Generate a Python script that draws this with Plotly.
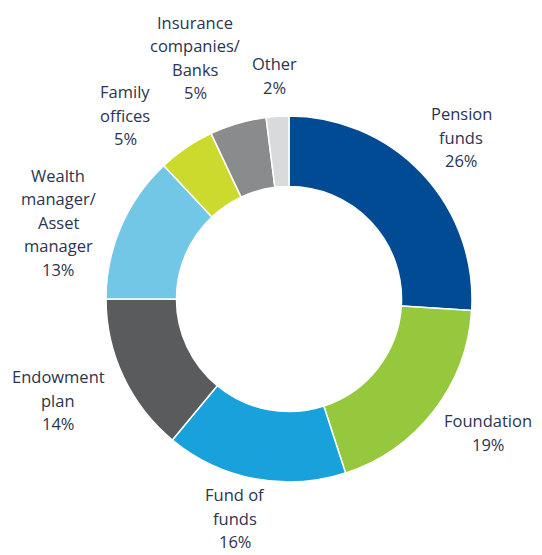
import math
import plotly.graph_objects as go

# ---- data ----
categories = ["Pension<br>funds", "Foundation", "Fund of<br>funds", "Endowment<br>plan",
              "Wealth<br>manager/<br>Asset<br>manager", "Family<br>offices",
              "Insurance<br>companies/<br>Banks", "Other"]
values = [26, 19, 16, 14, 13, 5, 5, 2]
colors = ["#004b93", "#95c83d", "#18a1db", "#5a5b5d", "#72c6e6", "#cbda2c", "#8a8b8d", "#d9dadc"]

# ---- layout params ----
OFF = 8                      # page body margin in the browser
W, H = 542 - OFF, 555 - OFF
CX, CY, R = 289 - OFF, 299 - OFF, 183
label_dist = [236, 240, 226, 252, 243, 246, 259, 224]   # radial distance of label centres (px)
label_nudge = [0, -4, 3, 1.5, -5, -7.5, -5, 0]           # angular nudge (deg)
LINE_H = 23.5
text_color = "#2b3451"
FONT = "Open Sans"

fig = go.Figure(go.Pie(
    labels=[c.replace("<br>", " ") for c in categories],
    values=values,
    hole=0.615,
    sort=False,
    direction="clockwise",
    rotation=0,
    textinfo="none",
    hoverinfo="label+percent",
    marker=dict(colors=colors, line=dict(color="white", width=1.5)),
    domain=dict(x=[(CX - R) / W, (CX + R) / W], y=[(H - CY - R) / H, (H - CY + R) / H]),
    showlegend=False,
))

total = sum(values)
cum = 0
annotations = []
for cat, v, d, nd in zip(categories, values, label_dist, label_nudge):
    mid = (cum + v / 2) / total * 360 + nd
    cum += v
    a = math.radians(mid)
    px = CX + d * math.sin(a)
    py = CY - d * math.cos(a)
    pct = round(v / total * 100)
    lines = cat.split("<br>") + [f"{pct}%"]
    n = len(lines)
    for i, ln in enumerate(lines):
        ly = py + (i - (n - 1) / 2) * LINE_H
        annotations.append(dict(
            x=px / W, y=(H - ly) / H, xref="paper", yref="paper",
            text=ln, showarrow=False, align="center",
            xanchor="center", yanchor="middle",
            font=dict(family=FONT, size=16.5, color=text_color),
        ))

fig.update_layout(
    width=W, height=H,
    margin=dict(l=0, r=0, t=0, b=0),
    paper_bgcolor="white", plot_bgcolor="white",
    annotations=annotations,
)

fig.write_html("out.html")
